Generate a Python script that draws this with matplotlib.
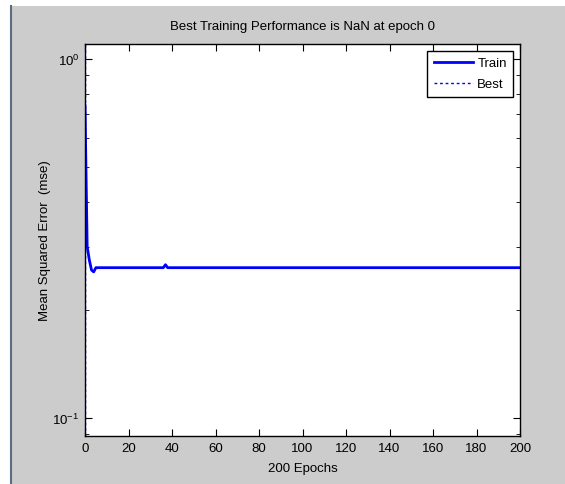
import matplotlib.pyplot as plt
from matplotlib.patches import Rectangle
from matplotlib.lines import Line2D
from matplotlib.ticker import LogLocator, NullFormatter

plt.rcParams['font.family'] = ['Liberation Sans', 'DejaVu Sans']
plt.rcParams['mathtext.fontset'] = 'custom'
plt.rcParams['mathtext.rm'] = 'Liberation Sans'
plt.rcParams['mathtext.it'] = 'Liberation Sans'

# training performance (mse) per epoch
epochs = list(range(0, 201))
head = [0.74, 0.30, 0.275, 0.258, 0.255, 0.262]
train_mse = head + [0.262] * (len(epochs) - len(head))
train_mse[37] = 0.267
best_epoch = 0

x_ticks = list(range(0, 201, 20))

fig = plt.figure(figsize=(5.65, 4.85), dpi=100)
fig.patch.set_facecolor('white')
# matlab figure window background
fig.patches.append(Rectangle((10 / 565, 0), 1, 1 - 7 / 485, transform=fig.transFigure,
                             facecolor='#cccccc', edgecolor='none', zorder=-10))
fig.lines.append(Line2D([10.5 / 565, 10.5 / 565], [0, 1 - 7 / 485], transform=fig.transFigure,
                        color='#5b6b82', lw=1.5, zorder=-9))

ax = fig.add_axes([85 / 565, 48 / 485, 435 / 565, 392 / 485])
ax.set_facecolor('white')
ax.semilogy(epochs, train_mse, color='#0000ff', lw=2, label='Train')
ax.axvline(best_epoch, color='#0000ff', lw=1, ls=(0, (2, 2)), label='Best')

ax.set_xlim(0, 200)
ax.set_ylim(0.089, 1.10)
ax.set_xticks(x_ticks)
ax.yaxis.set_major_locator(LogLocator(base=10))
ax.yaxis.set_minor_locator(LogLocator(base=10, subs=range(2, 10)))
ax.yaxis.set_minor_formatter(NullFormatter())
ax.tick_params(which='both', direction='in', top=True, right=True, labelsize=9.5, colors='black')
ax.tick_params(which='major', length=5, pad=4)
ax.tick_params(which='minor', length=3)
for s in ax.spines.values():
    s.set_linewidth(1)

ax.set_title('Best Training Performance is NaN at epoch 0', fontsize=9.5, pad=11)
ax.set_xlabel('200 Epochs', fontsize=9.5, labelpad=6)
ax.set_ylabel('Mean Squared Error  (mse)', fontsize=9.5, labelpad=1)

leg = ax.legend(loc='upper right', fontsize=9.5, fancybox=False, framealpha=1,
                edgecolor='black', borderaxespad=0.5, handlelength=3.0, handletextpad=0.3,
                borderpad=0.5, labelspacing=0.65)
leg.get_frame().set_linewidth(1)

fig.savefig('out.png', dpi=100, facecolor=fig.get_facecolor())
